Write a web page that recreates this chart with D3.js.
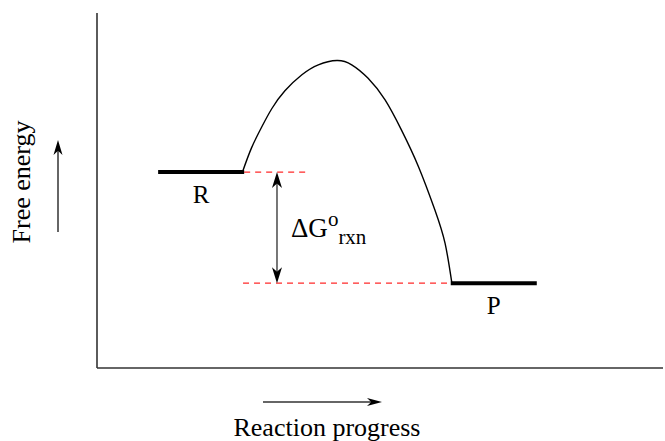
<!DOCTYPE html>
<html>
<head>
<meta charset="utf-8">
<script src="https://cdn.jsdelivr.net/npm/d3@7"></script>
<style>
  html, body { margin: 0; padding: 0; background: #fff; }
  svg { display: block; }
  text { font-family: "Liberation Serif", "Times New Roman", "DejaVu Serif", serif; fill: #000; }
</style>
</head>
<body>
<svg id="chart" width="665" height="441"></svg>
<script>
// ---- data (arbitrary units: reaction progress 0-100, free energy 0-100) ----
const levelNames = ["R", "P"];
const levelStart = [10.8, 62.5];
const levelEnd = [26.0, 77.7];
const levelEnergy = [55.2, 23.9];

const curveProgress = [25.7, 27.3, 29.1, 30.9, 33.2, 36.2, 39.1, 42.4, 45.0, 47.9, 50.9, 53.8, 56.8, 59.7, 61.5, 62.7];
const curveEnergy   = [55.2, 62.0, 67.9, 73.1, 78.1, 82.6, 85.4, 86.6, 85.4, 81.6, 75.5, 67.0, 56.7, 44.5, 35.1, 23.9];

const guideStart = [26.0, 25.8];
const guideEnd = [36.8, 62.5];
const deltaX = 31.8;

const axisTitles = ["Reaction progress", "Free energy"];

// ---- scales ----
const svg = d3.select("#chart");
const x = d3.scaleLinear().domain([0, 100]).range([97, 663]);
const y = d3.scaleLinear().domain([0, 100]).range([368, 13]);

// axes (plain lines, no ticks)
svg.append("line").attr("x1", x(0)).attr("x2", x(0)).attr("y1", y(100)).attr("y2", y(0))
  .attr("stroke", "#333").attr("stroke-width", 1.6);
svg.append("line").attr("x1", x(0)).attr("x2", x(100)).attr("y1", y(0)).attr("y2", y(0))
  .attr("stroke", "#333").attr("stroke-width", 1.6);

// red dashed guides
levelEnergy.forEach((e, i) => {
  svg.append("line")
    .attr("x1", x(guideStart[i])).attr("x2", x(guideEnd[i]))
    .attr("y1", y(e)).attr("y2", y(e))
    .attr("stroke", "#ff2a2a").attr("stroke-width", 1.2)
    .attr("stroke-dasharray", "6,5");
});

// energy curve
const pts = curveProgress.map((p, i) => [x(p), y(curveEnergy[i])]);
svg.append("path")
  .attr("d", d3.line().curve(d3.curveNatural)(pts))
  .attr("fill", "none").attr("stroke", "#000").attr("stroke-width", 1.4);

// levels
levelNames.forEach((n, i) => {
  svg.append("line")
    .attr("x1", x(levelStart[i])).attr("x2", x(levelEnd[i]))
    .attr("y1", y(levelEnergy[i])).attr("y2", y(levelEnergy[i]))
    .attr("stroke", "#000").attr("stroke-width", 4);
  svg.append("text")
    .attr("x", (x(levelStart[i]) + x(levelEnd[i])) / 2)
    .attr("y", y(levelEnergy[i]) + 31)
    .attr("text-anchor", "middle")
    .attr("font-size", 25)
    .text(n);
});

// arrowhead helper: tip at (tx,ty), pointing in direction angle (radians)
function head(tx, ty, ang, len, wid) {
  const c = Math.cos(ang), s = Math.sin(ang);
  const bx = tx - c * len, by = ty - s * len;
  const nx = -s, ny = c;
  const inner = [tx - c * len * 0.72, ty - s * len * 0.72];
  const p = [[tx, ty], [bx + nx * wid / 2, by + ny * wid / 2], inner, [bx - nx * wid / 2, by - ny * wid / 2]];
  svg.append("path").attr("d", "M" + p.map(q => q.join(",")).join("L") + "Z").attr("fill", "#000");
}

// delta G double arrow
const dx = x(deltaX), dy1 = y(levelEnergy[0]), dy2 = y(levelEnergy[1]);
svg.append("line").attr("x1", dx).attr("x2", dx).attr("y1", dy1 + 8).attr("y2", dy2 - 8)
  .attr("stroke", "#555").attr("stroke-width", 1.6);
head(dx, dy1, -Math.PI / 2, 16, 10);
head(dx, dy2, Math.PI / 2, 16, 10);

// delta G label
const lab = svg.append("text").attr("x", 291).attr("y", 237).attr("font-size", 27);
lab.append("tspan").text("ΔG");
lab.append("tspan").attr("font-size", 21).attr("dy", -11).text("o");
lab.append("tspan").attr("font-size", 21).attr("dy", 18).text("rxn");

// axis title arrows
svg.append("line").attr("x1", 263).attr("x2", 372).attr("y1", 402).attr("y2", 402)
  .attr("stroke", "#333").attr("stroke-width", 1.5);
head(382, 402, 0, 15, 8);
svg.append("line").attr("x1", 58).attr("x2", 58).attr("y1", 232).attr("y2", 150)
  .attr("stroke", "#333").attr("stroke-width", 1.5);
head(58, 140, -Math.PI / 2, 15, 9);

// axis titles
svg.append("text").attr("x", 327).attr("y", 436).attr("text-anchor", "middle")
  .attr("font-size", 26).text(axisTitles[0]);
svg.append("text").attr("transform", "translate(30,182) rotate(-90)")
  .attr("text-anchor", "middle").attr("font-size", 26).text(axisTitles[1]);
</script>
</body>
</html>
